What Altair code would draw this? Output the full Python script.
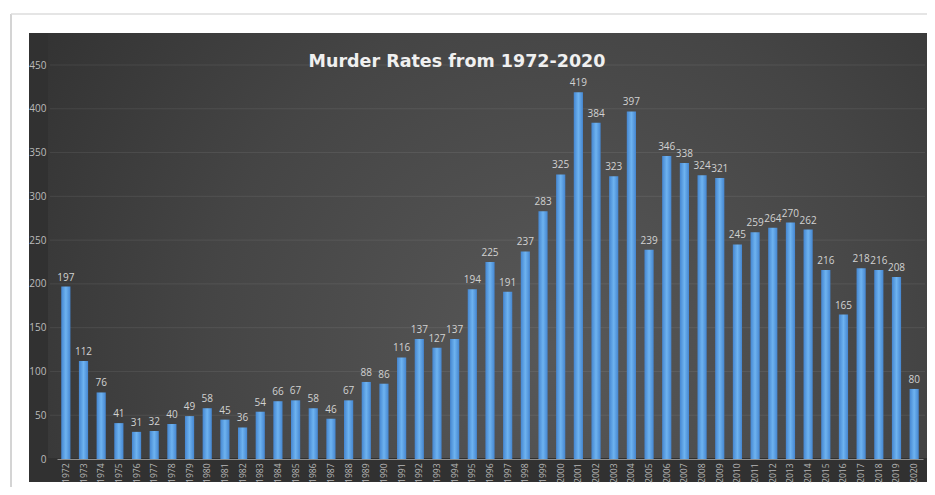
import altair as alt
import pandas as pd

years = ["1972", "1973", "1974", "1975", "1976", "1977", "1978", "1979", "1980",
         "1981", "1982", "1983", "1984", "1985", "1986", "1987", "1988", "1989",
         "1990", "1991", "1992", "1993", "1994", "1995", "1996", "1997", "1998",
         "1999", "2000", "2001", "2002", "2003", "2004", "2005", "2006", "2007",
         "2008", "2009", "2010", "2011", "2012", "2013", "2014", "2015", "2016",
         "2017", "2018", "2019", "2020"]
murders = [197, 112, 76, 41, 31, 32, 40, 49, 58,
           45, 36, 54, 66, 67, 58, 46, 67, 88,
           86, 116, 137, 127, 137, 194, 225, 191, 237,
           283, 325, 419, 384, 323, 397, 239, 346, 338,
           324, 321, 245, 259, 264, 270, 262, 216, 165,
           218, 216, 208, 80]
y_ticks = [0, 50, 100, 150, 200, 250, 300, 350, 400, 450]
grid_levels = [50, 100, 150, 200, 250, 300, 350, 400, 450]
chart_title = "Murder Rates from 1972-2020"

df = pd.DataFrame({"year": years, "murders": murders})
grid_df = pd.DataFrame({"level": grid_levels})
one = pd.DataFrame({"k": [0]})

W, H = 866, 394
PL, PT, PR, PB = 49, 57, 4, 28
yscale = alt.Scale(domain=[0, 450], nice=False)
xscale = alt.Scale(paddingInner=0.48, paddingOuter=0.24)

x_axis = alt.Axis(labelAngle=-90, labelFontSize=8.5, labelColor="#b8b8b8",
                  labelFont="Open Sans", ticks=False, domainColor="#8e8e8e",
                  domainWidth=1, labelPadding=4, zindex=1, grid=False)
y_axis = alt.Axis(values=y_ticks, labelFontSize=10, labelColor="#bcbcbc",
                  labelFont="Open Sans", domain=False, ticks=False, grid=False,
                  labelPadding=11, zindex=1)


def strip(x, x2, y, y2, fill="white"):
    return alt.Chart(one).mark_rect(fill=fill).encode(
        x=alt.value(x), x2=alt.value(x2), y=alt.value(y), y2=alt.value(y2))


# white surround outside the dark panel
left_strip = strip(-PL, -28, -PT, H + PB)
top_strip = strip(-PL, W + PR, -PT, -32)
bottom_strip = strip(-PL, W + PR, H + 23, H + PB)
edge_v = alt.Chart(one).mark_rule(color="#d4d4d4", strokeWidth=2).encode(
    x=alt.value(-46), y=alt.value(-51), y2=alt.value(H + PB))
edge_h = alt.Chart(one).mark_rule(color="#dcdcdc", strokeWidth=1.5).encode(
    x=alt.value(-46), x2=alt.value(W + PR), y=alt.value(-51))

panel = alt.Chart(one).mark_rect(
    fill=alt.RadialGradient(
        gradient="radial",
        stops=[alt.GradientStop(offset=0, color="#585858"),
               alt.GradientStop(offset=0.5, color="#454545"),
               alt.GradientStop(offset=1, color="#2c2c2c")],
        x1=0.58, y1=0.62, x2=0.58, y2=0.62, r1=0, r2=0.8,
    )
).encode(x=alt.value(-9), x2=alt.value(W + 6), y=alt.value(-32), y2=alt.value(H - 1))

grid = alt.Chart(grid_df).mark_rule(color="#ffffff", opacity=0.08, strokeWidth=1).encode(
    y=alt.Y("level:Q", scale=yscale, title=None, axis=y_axis),
    x=alt.value(-7), x2=alt.value(W + 2),
)

bars = alt.Chart(df).mark_bar(
    fill=alt.LinearGradient(
        gradient="linear",
        stops=[alt.GradientStop(offset=0, color="#4586d0"),
               alt.GradientStop(offset=0.5, color="#6eb3f0"),
               alt.GradientStop(offset=1, color="#4586d0")],
        x1=0, x2=1, y1=0, y2=0,
    )
).encode(
    x=alt.X("year:N", sort=None, scale=xscale, title=None, axis=x_axis),
    y=alt.Y("murders:Q", scale=yscale, title=None, axis=y_axis),
)

labels = alt.Chart(df).mark_text(
    baseline="bottom", dy=-4, fontSize=10, color="#d2d2d2", font="Open Sans"
).encode(
    x=alt.X("year:N", sort=None, scale=xscale, title=None, axis=x_axis),
    y=alt.Y("murders:Q", scale=yscale, title=None, axis=y_axis),
    text=alt.Text("murders:Q"),
)

chart = alt.layer(left_strip, top_strip, bottom_strip, edge_v, edge_h,
                  panel, grid, bars, labels).properties(
    width=W, height=H,
    autosize=alt.AutoSizeParams(type="none"),
    padding={"left": PL, "top": PT, "right": PR, "bottom": PB},
    background="#313131",
    title=alt.TitleParams(chart_title, font="DejaVu Sans", fontSize=17.5, fontWeight="bold",
                          color="#f0f0f0", anchor="middle", frame="group", dx=-33,
                          offset=-76, baseline="alphabetic"),
).configure_view(stroke=None)

chart.save("out.html", embed_options={"renderer": "svg", "actions": False})
